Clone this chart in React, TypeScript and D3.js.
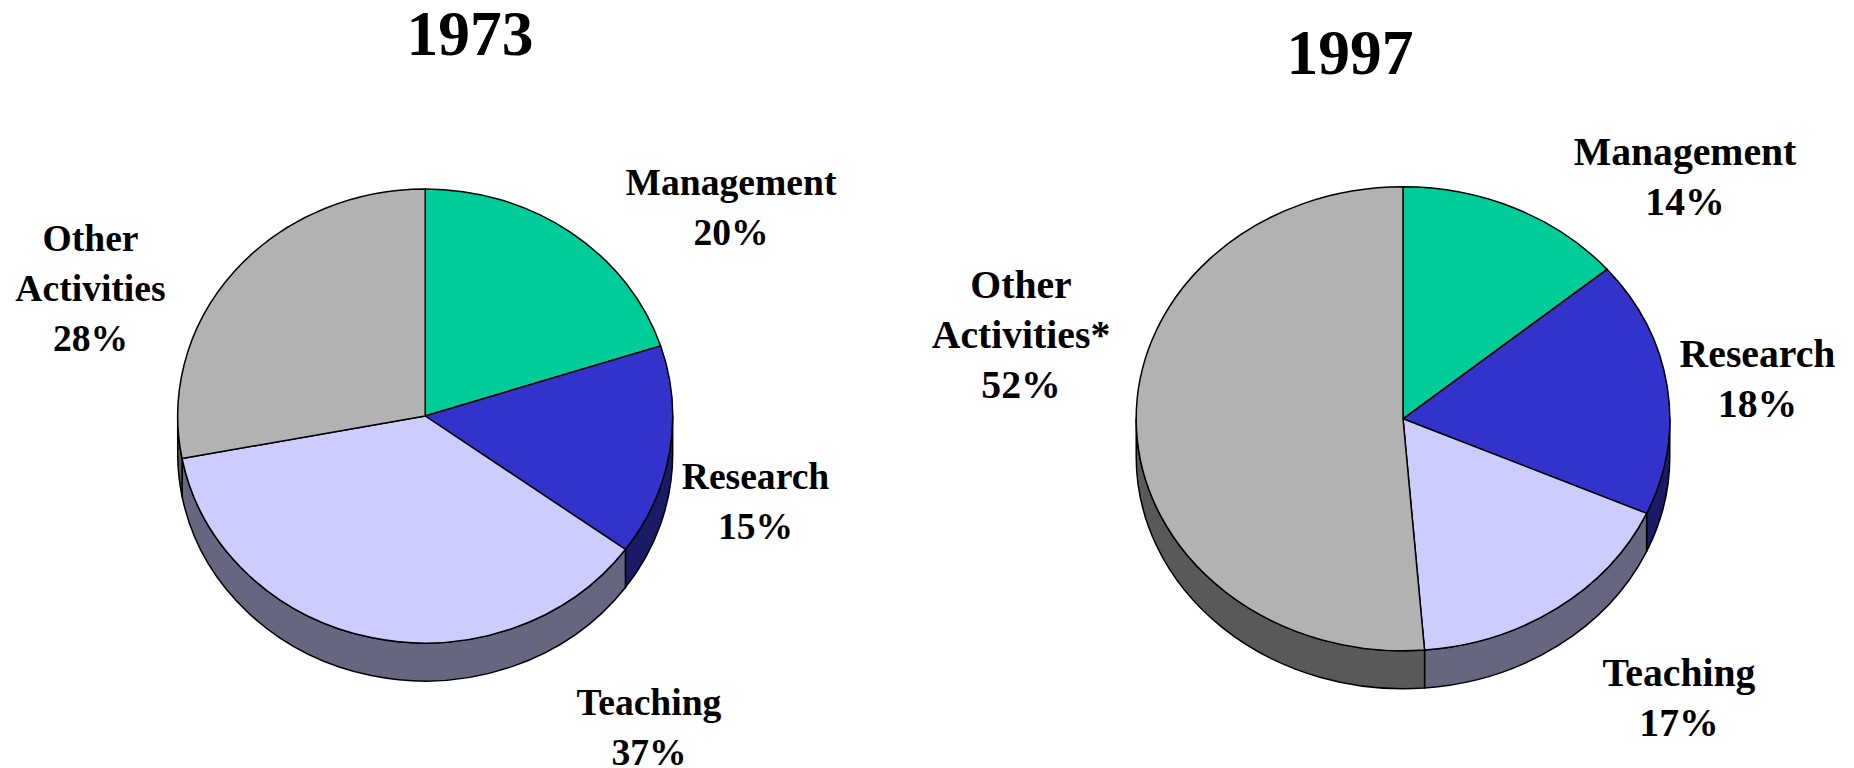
import React, { useEffect, useRef } from 'react';
import * as d3 from 'd3';

const categories = ['Management', 'Research', 'Teaching', 'Other Activities'];
const values1973 = [20, 15, 37, 28];
const values1997 = [14, 18, 17.2, 51.8];
const topColors = ['#00cc99', '#3333cc', '#ccccff', '#b2b2b2'];
const wallColors = ['#006650', '#1a1a66', '#666680', '#595959'];

// label anchors: centre x and the baseline of the first line
const labels1973 = [
    { lines: ['Management', '20%'], x: 731, y: 194.5 },
    { lines: ['Research', '15%'], x: 755.5, y: 488.5 },
    { lines: ['Teaching', '37%'], x: 649, y: 715 },
    { lines: ['Other', 'Activities', '28%'], x: 90.5, y: 250.5 },
];
const labels1997 = [
    { lines: ['Management', '14%'], x: 1685, y: 164.5 },
    { lines: ['Research', '18%'], x: 1757.5, y: 367 },
    { lines: ['Teaching', '17%'], x: 1679, y: 685.5 },
    { lines: ['Other', 'Activities*', '52%'], x: 1021, y: 297.5 },
];

const pies = [
    { title: '1973', titleX: 470, titleY: 54.5, titleSize: 63.5, labelSize: 37.6, cx: 425.2, cy: 416, rx: 247.5, ry: 227, depth: 38, values: values1973, labels: labels1973 },
    { title: '1997', titleX: 1350, titleY: 73.5, titleSize: 63.5, labelSize: 39.7, cx: 1403, cy: 418.8, rx: 266.8, ry: 232, depth: 38, values: values1997, labels: labels1997 },
];

const FONT = '"Liberation Serif", "Times New Roman", serif';
const LINE_HEIGHT = 50;

// point on the tilted rim, angle measured clockwise from 12 o'clock
const rim = (p, a) => [p.cx + p.rx * Math.sin(a), p.cy - p.ry * Math.cos(a)];

// side wall of a slice, only the part that faces the viewer
function wallPath(p, a0, a1) {
    const from = Math.max(a0, Math.PI / 2);
    const to = Math.min(a1, (3 * Math.PI) / 2);
    if (to <= from) return null;
    const [x0, y0] = rim(p, from);
    const [x1, y1] = rim(p, to);
    const large = to - from > Math.PI ? 1 : 0;
    return `M${x0},${y0}A${p.rx},${p.ry} 0 ${large} 1 ${x1},${y1}`
        + `L${x1},${y1 + p.depth}A${p.rx},${p.ry} 0 ${large} 0 ${x0},${y0 + p.depth}Z`;
}

function drawPie(svg, p) {
    const pieGenerator = d3.pie().sort(null).value((d) => d);
    const slices = pieGenerator(p.values);

    const g = svg.append('g');

    g.selectAll('path.wall')
        .data(slices)
        .enter()
        .append('path')
        .attr('class', 'wall')
        .attr('d', (d) => wallPath(p, d.startAngle, d.endAngle))
        .attr('fill', (_, i) => wallColors[i])
        .attr('stroke', '#000')
        .attr('stroke-width', 1.5)
        .attr('stroke-linejoin', 'round');

    // the top is a plain d3 arc squashed to the ellipse
    const R = 100;
    const arcGenerator = d3.arc().innerRadius(0).outerRadius(R);
    g.append('g')
        .attr('transform', `translate(${p.cx},${p.cy}) scale(${p.rx / R},${p.ry / R})`)
        .selectAll('path')
        .data(slices)
        .enter()
        .append('path')
        .attr('d', arcGenerator)
        .attr('fill', (_, i) => topColors[i])
        .attr('stroke', '#000')
        .attr('stroke-width', 1.5)
        .attr('stroke-linejoin', 'round')
        .attr('vector-effect', 'non-scaling-stroke');

    g.append('text')
        .attr('x', p.titleX)
        .attr('y', p.titleY)
        .attr('text-anchor', 'middle')
        .attr('font-family', FONT)
        .attr('font-weight', 'bold')
        .attr('font-size', p.titleSize)
        .text(p.title);

    const label = g.selectAll('text.label')
        .data(p.labels)
        .enter()
        .append('text')
        .attr('class', 'label')
        .attr('text-anchor', 'middle')
        .attr('font-family', FONT)
        .attr('font-weight', 'bold')
        .attr('font-size', p.labelSize);

    label.selectAll('tspan')
        .data((d) => d.lines.map((line, i) => ({ line, x: d.x, y: d.y + i * LINE_HEIGHT })))
        .enter()
        .append('tspan')
        .attr('x', (d) => d.x)
        .attr('y', (d) => d.y)
        .text((d) => d.line);
}

export default function App() {
    const ref = useRef(null);

    useEffect(() => {
        const svg = d3.select(ref.current);
        svg.selectAll('*').remove();
        pies.forEach((p) => drawPie(svg, p));
    }, []);

    return (
        <svg
            ref={ref}
            width={1854}
            height={768}
            aria-label={categories.join(', ')}
            style={{ position: 'absolute', left: 0, top: 0, display: 'block', background: '#fff' }}
        />
    );
}
